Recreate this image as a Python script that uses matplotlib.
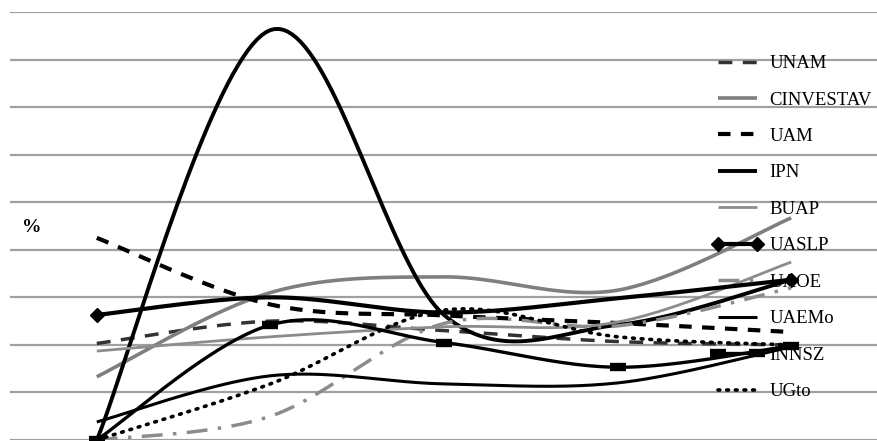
import matplotlib.pyplot as plt
import numpy as np

# categories (no labels shown on the x axis)
periods = [0, 1, 2, 3, 4]

unam = [2.03, 2.50, 2.30, 2.07, 2.00]
cinvestav = [1.33, 3.10, 3.43, 3.15, 4.67]
uam = [4.25, 2.85, 2.62, 2.46, 2.27]
ipn = [0.00, 8.62, 2.63, 2.42, 3.37]
buap = [1.87, 2.17, 2.38, 2.48, 3.74]
uaslp = [2.63, 3.00, 2.68, 2.98, 3.37]
uaoe = [0.00, 0.50, 2.45, 2.40, 3.20]
uaemo = [0.38, 1.35, 1.18, 1.20, 1.96]
innsz = [0.00, 2.42, 2.05, 1.53, 1.98]
ugto = [0.00, 1.18, 2.73, 2.17, 2.00]

N = 40


def smooth(xs, ys):
    # bezier smoothing like the spreadsheet "smoothed line" option
    p = np.column_stack([xs, ys]).astype(float)
    p = np.vstack([p[0], p, p[-1]])
    t = np.linspace(0, 1, N, endpoint=False)[:, None]
    out = []
    for i in range(1, len(p) - 2):
        p0, p1, p2, p3 = p[i - 1], p[i], p[i + 1], p[i + 2]
        c1 = p1 + (p2 - p0) / 6
        c2 = p2 - (p3 - p1) / 6
        seg = ((1 - t) ** 3) * p1 + 3 * ((1 - t) ** 2) * t * c1 + 3 * (1 - t) * t ** 2 * c2 + t ** 3 * p2
        out.append(seg)
    out.append(p[-2][None, :])
    out = np.vstack(out)
    return out[:, 0], out[:, 1]


fig = plt.figure(figsize=(8.78, 4.41), dpi=100)
ax = fig.add_axes([10 / 878, 1 / 441, 868 / 878, 428 / 441])
ax.set_xlim(-0.5, 4.5)
ax.set_ylim(0, 9)
for v in range(0, 10):
    ax.axhline(v, color='#a0a0a0', lw=1.6, zorder=0)
for s in ax.spines.values():
    s.set_visible(False)
ax.set_xticks([])
ax.set_yticks([])

data_idx = [i * N for i in range(len(periods))]

series = [
    ('UNAM', unam, dict(color='#333333', lw=2.5, dashes=(4, 3))),
    ('CINVESTAV', cinvestav, dict(color='#7f7f7f', lw=2.6)),
    ('UAM', uam, dict(color='black', lw=3, dashes=(3, 2.5))),
    ('IPN', ipn, dict(color='black', lw=2.8)),
    ('BUAP', buap, dict(color='#8c8c8c', lw=2.0)),
    ('UASLP', uaslp, dict(color='black', lw=3, marker='D', ms=7, markevery=[0, 4 * N])),
    ('UAOE', uaoe, dict(color='#8c8c8c', lw=2.5, dashes=(6, 3, 1, 3))),
    ('UAEMo', uaemo, dict(color='black', lw=2.2)),
    ('INNSZ', innsz, dict(color='black', lw=2.4, marker='_', ms=11, mew=6, markevery=data_idx)),
    ('UGto', ugto, dict(color='black', lw=2.6, dashes=(0.5, 1.9), dash_capstyle='round')),
]

for name, vals, style in series:
    sx, sy = smooth(periods, vals)
    ax.plot(sx, sy, label=name, solid_capstyle='butt', **style)

leg = ax.legend(loc='upper left', bbox_to_anchor=(712 / 878, 1 - 55 / 441),
                bbox_transform=fig.transFigure, frameon=False, numpoints=2,
                prop={'family': 'Liberation Serif', 'size': 13.5},
                handlelength=2.7, handletextpad=0.35, labelspacing=1.03,
                borderpad=0, borderaxespad=0)

fig.text(22 / 878, 1 - 228 / 441, '%', fontsize=14, fontweight='bold',
         family='Liberation Serif', va='center', ha='left')

fig.savefig('out.png', dpi=100)
